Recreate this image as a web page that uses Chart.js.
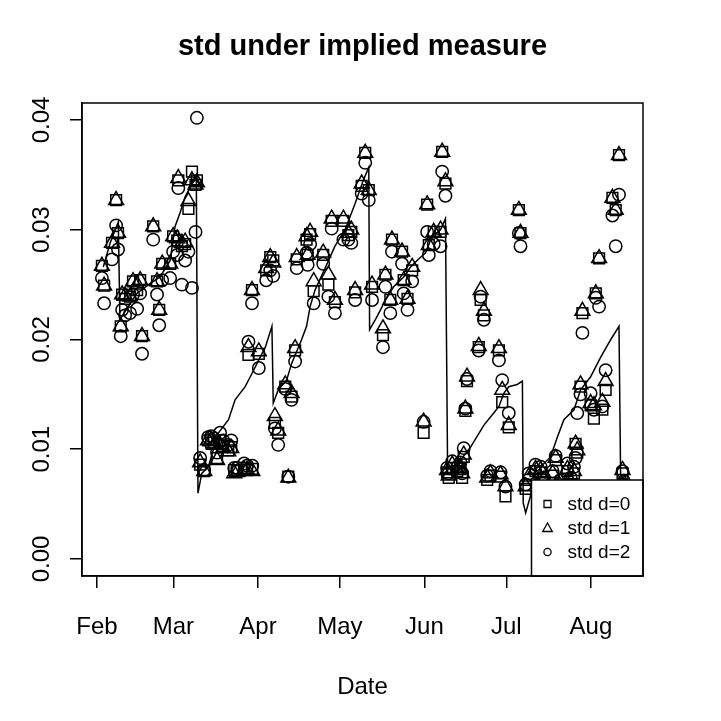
<!DOCTYPE html>
<html>
<head>
<meta charset="utf-8">
<script src="https://cdn.jsdelivr.net/npm/chart.js@4.4.0/dist/chart.umd.min.js"></script>
<style>
html,body{margin:0;padding:0;background:#fff;}
canvas{display:block;}
</style>
</head>
<body>
<canvas id="c" width="721" height="721"></canvas>
<script>
// day of year (Feb 1 = 32)
const days = [
 33.8,34.6,37.5,39.0,39.7,40.7,41.2,42.3,44.1,45.2,
 46.7,47.8,48.5,52.6,54.0,54.8,55.9,58.8,59.9,61.4,
 61.8,63.1,64.3,65.5,66.8,68.1,68.6,69.8,71.3,72.7,
 73.8,74.9,76.0,77.1,78.2,80.1,81.2,82.3,83.4,85.9,
 87.0,87.5,88.8,88.9,91.3,94.0,95.5,96.6,97.2,98.4,
 101.0,102.1,103.3,104.6,105.2,108.8,109.2,110.1,111.4,114.9,
 116.8,118.0,119.2,122.3,124.1,125.2,126.6,129.0,130.3,131.6,
 132.8,136.8,137.7,139.5,140.1,143.8,144.4,145.8,147.5,151.7,
 153.0,153.6,155.4,157.9,158.5,159.7,160.3,160.9,162.2,164.0,
 165.2,165.8,166.4,167.0,167.6,171.9,172.6,173.8,175.0,176.2,
 179.3,179.9,180.5,181.7,182.9,186.6,187.2,189.1,190.2,192.7,
 194.6,195.8,197.6,199.0,200.1,201.9,203.1,204.4,205.6,206.8,
 207.4,208.0,209.2,209.9,212.9,214.1,214.8,216.0,217.2,218.4,
 220.9,222.1,223.3,224.6,225.1
];
const std0 = [
 0.0267,0.0249,0.0288,0.0327,0.0297,0.0212,0.0241,0.0237,0.0239,0.0253,
 0.0245,0.0254,0.0203,0.0303,0.0253,0.0227,0.0269,0.0269,0.0294,0.0290,
 0.0345,0.0285,0.0287,0.0319,0.0353,0.0341,0.0345,0.0086,0.0080,0.0108,
 0.0106,0.0106,0.0092,0.0108,0.0103,0.0099,0.0102,0.0081,0.0081,0.0083,
 0.0081,0.0186,0.0245,0.0082,0.0187,0.0263,0.0275,0.0272,0.0124,0.0115,
 0.0157,0.0075,0.0148,0.0190,0.0273,0.0291,0.0277,0.0296,0.0244,0.0277,
 0.0250,0.0308,0.0234,0.0308,0.0295,0.0298,0.0243,0.0340,0.0370,0.0336,
 0.0248,0.0204,0.0259,0.0236,0.0291,0.0280,0.0254,0.0237,0.0263,0.0115,
 0.0323,0.0286,0.0298,0.0298,0.0371,0.0342,0.0079,0.0074,0.0083,0.0080,
 0.0082,0.0074,0.0093,0.0135,0.0162,0.0193,0.0236,0.0222,0.0072,0.0076,
 0.0190,0.0075,0.0143,0.0057,0.0120,0.0318,0.0297,0.0064,0.0072,0.0080,
 0.0079,0.0070,0.0062,0.0076,0.0090,0.0068,0.0062,0.0080,0.0068,0.0078,
 0.0105,0.0097,0.0157,0.0224,0.0140,0.0128,0.0242,0.0274,0.0136,0.0154,
 0.0329,0.0318,0.0368,0.0078,0.0067
];
const std1 = [
 0.0267,0.0249,0.0288,0.0327,0.0297,0.0212,0.0241,0.0240,0.0239,0.0253,
 0.0250,0.0254,0.0203,0.0303,0.0253,0.0227,0.0269,0.0269,0.0294,0.0292,
 0.0347,0.0288,0.0289,0.0326,0.0345,0.0341,0.0343,0.0088,0.0080,0.0108,
 0.0108,0.0104,0.0090,0.0104,0.0101,0.0098,0.0101,0.0078,0.0079,0.0081,
 0.0081,0.0193,0.0245,0.0080,0.0189,0.0265,0.0275,0.0270,0.0130,0.0117,
 0.0159,0.0074,0.0151,0.0192,0.0275,0.0294,0.0277,0.0298,0.0253,0.0279,
 0.0259,0.0310,0.0236,0.0310,0.0297,0.0300,0.0245,0.0342,0.0370,0.0336,
 0.0250,0.0210,0.0259,0.0236,0.0291,0.0280,0.0254,0.0237,0.0266,0.0125,
 0.0323,0.0286,0.0298,0.0300,0.0371,0.0344,0.0081,0.0076,0.0086,0.0081,
 0.0084,0.0078,0.0095,0.0137,0.0166,0.0194,0.0245,0.0226,0.0074,0.0078,
 0.0192,0.0077,0.0154,0.0066,0.0122,0.0318,0.0297,0.0066,0.0075,0.0082,
 0.0081,0.0072,0.0064,0.0078,0.0092,0.0070,0.0064,0.0082,0.0070,0.0080,
 0.0105,0.0099,0.0159,0.0226,0.0142,0.0140,0.0242,0.0274,0.0143,0.0162,
 0.0329,0.0318,0.0368,0.0081,0.0069
];
const std2 = [
 0.0256,0.0233,0.0273,0.0304,0.0282,0.0203,0.0227,0.0222,0.0224,0.0241,
 0.0228,0.0242,0.0187,0.0291,0.0241,0.0213,0.0254,0.0256,0.0280,0.0277,
 0.0338,0.0250,0.0272,0.0280,0.0247,0.0298,0.0402,0.0092,0.0081,0.0111,
 0.0112,0.0110,0.0097,0.0115,0.0108,0.0104,0.0108,0.0083,0.0083,0.0087,
 0.0085,0.0198,0.0233,0.0085,0.0174,0.0254,0.0263,0.0258,0.0119,0.0104,
 0.0155,0.0075,0.0145,0.0180,0.0265,0.0279,0.0268,0.0287,0.0233,0.0269,
 0.0239,0.0301,0.0224,0.0291,0.0291,0.0288,0.0236,0.0333,0.0361,0.0327,
 0.0236,0.0193,0.0248,0.0224,0.0280,0.0269,0.0242,0.0227,0.0253,0.0125,
 0.0298,0.0277,0.0287,0.0285,0.0353,0.0331,0.0083,0.0078,0.0089,0.0084,
 0.0088,0.0078,0.0101,0.0137,0.0164,0.0190,0.0239,0.0218,0.0076,0.0080,
 0.0181,0.0079,0.0163,0.0066,0.0133,0.0297,0.0285,0.0068,0.0078,0.0086,
 0.0084,0.0074,0.0066,0.0080,0.0094,0.0072,0.0066,0.0087,0.0074,0.0084,
 0.0092,0.0133,0.0150,0.0206,0.0151,0.0136,0.0238,0.0230,0.0139,0.0172,
 0.0313,0.0285,0.0332,0.0080,0.0071
];
// implied-measure std line
const lineDays = [
 34.3,36.8,39.8,40.4,42.9,46.6,51.4,55.1,58.8,60.6,62.5,64.3,66.8,68.4,
 69.0,70.4,72.8,76.5,80.2,82.6,86.3,88.8,91.2,93.7,96.1,
 96.6,98.4,101.5,103.3,107.0,108.8,110.1,111.9,115.6,119.2,122.9,126.6,129.6,131.6,
 131.9,134.0,135.9,137.7,140.7,144.4,146.9,149.3,152.4,154.8,157.9,159.7,
 160.5,161.5,165.2,168.9,173.8,177.4,179.3,181.1,182.9,186.0,187.9,
 188.2,189.1,191.5,194.6,198.2,200.7,203.1,206.8,209.2,212.9,216.6,220.3,223.3,
 223.9,224.8
];
const lineVals = [
 0.0266,0.0288,0.0307,0.0218,0.0228,0.0242,0.0251,0.0257,0.0272,0.0303,0.0316,0.0330,0.0342,0.0347,
 0.0060,0.0078,0.0084,0.0115,0.0127,0.0145,0.0157,0.0169,0.0181,0.0193,0.0212,
 0.0142,0.0154,0.0163,0.0178,0.0200,0.0212,0.0230,0.0245,0.0265,0.0285,0.0300,0.0324,0.0345,0.0357,
 0.0209,0.0218,0.0227,0.0236,0.0248,0.0257,0.0266,0.0272,0.0279,0.0294,0.0300,0.0310,
 0.0078,0.0078,0.0090,0.0102,0.0122,0.0133,0.0139,0.0151,0.0157,0.0159,0.0162,
 0.0051,0.0042,0.0063,0.0084,0.0093,0.0111,0.0127,0.0136,0.0154,0.0166,0.0184,0.0200,0.0212,
 0.0075,0.0075
];
const monthTicks = [32, 60, 91, 121, 152, 182, 213];
const monthLabels = ['Feb', 'Mar', 'Apr', 'May', 'Jun', 'Jul', 'Aug'];
const yTicks = [0, 0.01, 0.02, 0.03, 0.04];
const yLabels = ['0.00', '0.01', '0.02', '0.03', '0.04'];
const seriesLabels = ['std d=0', 'std d=1', 'std d=2'];
const titleText = 'std under implied measure';
const xTitle = 'Date';

const FONT = '"Liberation Sans", Arial, Helvetica, sans-serif';
const pts = (ys) => days.map((d, i) => ({ x: d, y: ys[i] }));

const rPlot = {
  id: 'rplot',
  afterDraw(chart) {
    const ctx = chart.ctx, a = chart.chartArea;
    const xs = chart.scales.x, ys = chart.scales.y;
    ctx.save();
    ctx.fillStyle = '#000';
    // title
    ctx.font = 'bold 29px ' + FONT;
    ctx.textAlign = 'center';
    ctx.textBaseline = 'alphabetic';
    ctx.fillText(titleText, (a.left + a.right) / 2, 55);
    // x tick labels
    ctx.font = '24px ' + FONT;
    monthTicks.forEach((v, i) => ctx.fillText(monthLabels[i], xs.getPixelForValue(v), 634));
    // x title
    ctx.fillText(xTitle, (a.left + a.right) / 2, 694);
    // y tick labels (rotated)
    yTicks.forEach((v, i) => {
      ctx.save();
      ctx.translate(49, ys.getPixelForValue(v));
      ctx.rotate(-Math.PI / 2);
      ctx.fillText(yLabels[i], 0, 0);
      ctx.restore();
    });
    // legend
    const lx = a.right - 111.5, ly = a.bottom - 96;
    ctx.fillStyle = '#fff';
    ctx.fillRect(lx, ly, a.right - lx, a.bottom - ly);
    ctx.strokeStyle = '#000';
    ctx.lineWidth = 1.5;
    ctx.strokeRect(lx, ly, a.right - lx, a.bottom - ly);
    const sx = lx + 16, rows = [ly + 24, ly + 48, ly + 72];
    ctx.lineWidth = 1.3;
    ctx.beginPath(); ctx.rect(sx - 3.5, rows[0] - 3.5, 7, 7); ctx.stroke();
    ctx.beginPath();
    ctx.moveTo(sx, rows[1] - 5); ctx.lineTo(sx + 4.8, rows[1] + 3.5); ctx.lineTo(sx - 4.8, rows[1] + 3.5); ctx.closePath(); ctx.stroke();
    ctx.beginPath(); ctx.arc(sx, rows[2], 3.6, 0, Math.PI * 2); ctx.stroke();
    ctx.fillStyle = '#000';
    ctx.font = '19px ' + FONT;
    ctx.textAlign = 'left';
    ctx.textBaseline = 'middle';
    seriesLabels.forEach((t, i) => ctx.fillText(t, lx + 36, rows[i] + 1));
    // plot box
    ctx.lineWidth = 1.5;
    ctx.strokeRect(a.left, a.top, a.right - a.left, a.bottom - a.top);
    ctx.restore();
  }
};

new Chart(document.getElementById('c'), {
  type: 'scatter',
  data: {
    datasets: [
      { label: seriesLabels[0], data: pts(std0), pointStyle: 'rect', pointRadius: 7.6,
        borderColor: '#000', backgroundColor: 'rgba(0,0,0,0)', pointBorderWidth: 1.5, showLine: false },
      { label: seriesLabels[1], data: pts(std1), pointStyle: 'triangle', pointRadius: 8.6,
        borderColor: '#000', backgroundColor: 'rgba(0,0,0,0)', pointBorderWidth: 1.5, showLine: false },
      { label: seriesLabels[2], data: pts(std2), pointStyle: 'circle', pointRadius: 6.2,
        borderColor: '#000', backgroundColor: 'rgba(0,0,0,0)', pointBorderWidth: 1.5, showLine: false },
      { label: 'implied', data: lineDays.map((d, i) => ({ x: d, y: lineVals[i] })), showLine: true,
        pointRadius: 0, borderColor: '#000', borderWidth: 1.5, tension: 0, fill: false }
    ]
  },
  options: {
    responsive: false,
    animation: false,
    devicePixelRatio: 1,
    layout: { padding: { left: 0, top: 103, right: 78, bottom: 0 } },
    plugins: { legend: { display: false }, title: { display: false }, tooltip: { enabled: false } },
    scales: {
      x: {
        type: 'linear', position: 'bottom', min: 26.5, max: 232.1,
        afterBuildTicks: (s) => { s.ticks = monthTicks.map(v => ({ value: v })); },
        afterFit: (s) => { s.height = 145; },
        ticks: { display: false },
        grid: { display: true, drawOnChartArea: false, drawTicks: true, tickLength: 12, color: '#000', lineWidth: 1.5 },
        border: { display: true, color: '#000', width: 1.5 }
      },
      y: {
        type: 'linear', position: 'left', min: -0.00155, max: 0.04155,
        afterBuildTicks: (s) => { s.ticks = yTicks.map(v => ({ value: v })); },
        afterFit: (s) => { s.width = 82; },
        ticks: { display: false },
        grid: { display: true, drawOnChartArea: false, drawTicks: true, tickLength: 12, color: '#000', lineWidth: 1.5 },
        border: { display: true, color: '#000', width: 1.5 }
      }
    }
  },
  plugins: [rPlot]
});
</script>
</body>
</html>
